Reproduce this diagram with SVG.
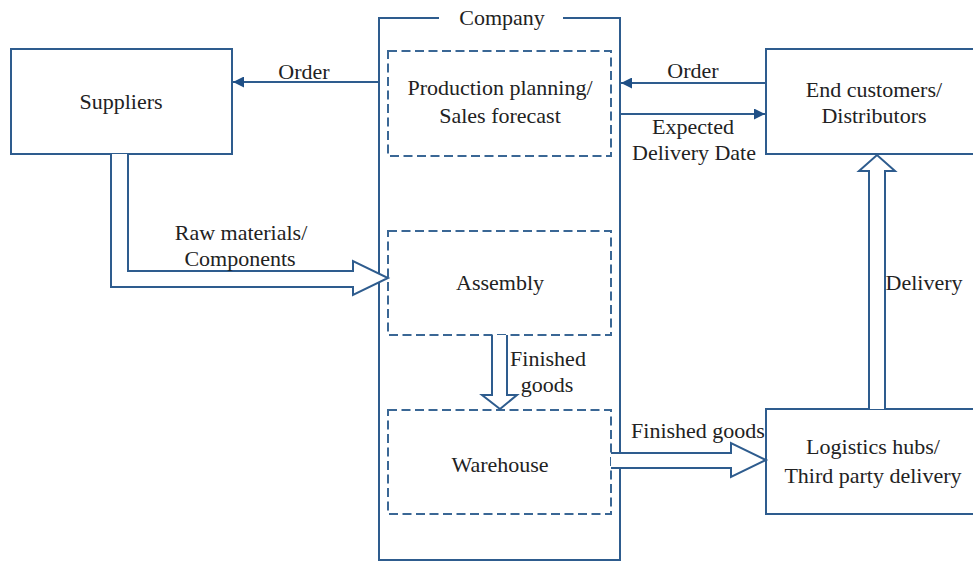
<svg xmlns="http://www.w3.org/2000/svg" width="973" height="562" viewBox="0 0 973 562">
<style>
.box{fill:#fff;stroke:#2e5c8e;stroke-width:2}
.dash{fill:none;stroke:#3a6795;stroke-width:2;stroke-dasharray:9,4.5}
.line{fill:none;stroke:#2e5c8e;stroke-width:2}
.blk{fill:#fff;stroke:#2e5c8e;stroke-width:2;stroke-linejoin:miter}
text{font-family:"Liberation Serif","Times New Roman",serif;font-size:22px;fill:#222;text-anchor:middle}
</style>
<defs>
<marker id="ah" viewBox="0 0 10 10" refX="10" refY="5" markerUnits="userSpaceOnUse" markerWidth="11" markerHeight="11" orient="auto">
<path d="M0,0 L10,5 L0,10 z" fill="#1f4f86"/>
</marker>
</defs>
<rect width="973" height="562" fill="#fff"/>
<g id="company">
<path class="line" d="M439,18 H379 V560 H620 V18 H563"/>
<text x="502" y="25">Company</text>
</g>
<g id="suppliers">
<rect class="box" x="11" y="49" width="221" height="105"/>
<text x="121" y="109">Suppliers</text>
</g>
<g id="end-customers">
<rect class="box" x="766" y="49" width="215" height="105"/>
<text x="874" y="97">End customers/</text>
<text x="874" y="123">Distributors</text>
</g>
<g id="logistics">
<rect class="box" x="766" y="409" width="215" height="105"/>
<text x="873" y="454">Logistics hubs/</text>
<text x="873" y="483">Third party delivery</text>
</g>
<g id="production">
<rect class="dash" x="388" y="51" width="223" height="105"/>
<text x="500" y="95">Production planning/</text>
<text x="500" y="123">Sales forecast</text>
</g>
<g id="assembly">
<rect class="dash" x="388" y="231" width="223" height="104"/>
<text x="500" y="290">Assembly</text>
</g>
<g id="warehouse">
<rect class="dash" x="388" y="410" width="223" height="104"/>
<text x="500" y="472">Warehouse</text>
</g>
<g id="connectors">
<line class="line" x1="379" y1="82" x2="233" y2="82" marker-end="url(#ah)"/>
<text x="304" y="79">Order</text>
<line class="line" x1="766" y1="83" x2="621" y2="83" marker-end="url(#ah)"/>
<text x="693" y="78">Order</text>
<line class="line" x1="620" y1="114" x2="765" y2="114" marker-end="url(#ah)"/>
<text x="693" y="134">Expected</text>
<text x="694" y="160">Delivery Date</text>
<polyline class="blk" points="128,154 128,271 353,271 353,261 388,278 353,295 353,287 111,287 111,154"/>
<text x="241" y="240">Raw materials/</text>
<text x="240" y="266">Components</text>
<polyline class="blk" points="492,335 492,395 482,395 500,409 517,395 507,395 507,335"/>
<text x="548" y="366">Finished</text>
<text x="547" y="392">goods</text>
<polyline class="blk" points="611,453 731,453 731,443 766,460 731,477 731,468 611,468"/>
<text x="698" y="438">Finished goods</text>
<polyline class="blk" points="869,409 869,171 859,171 877,155 895,171 885,171 885,409"/>
<text x="924" y="290">Delivery</text>
</g>
</svg>
